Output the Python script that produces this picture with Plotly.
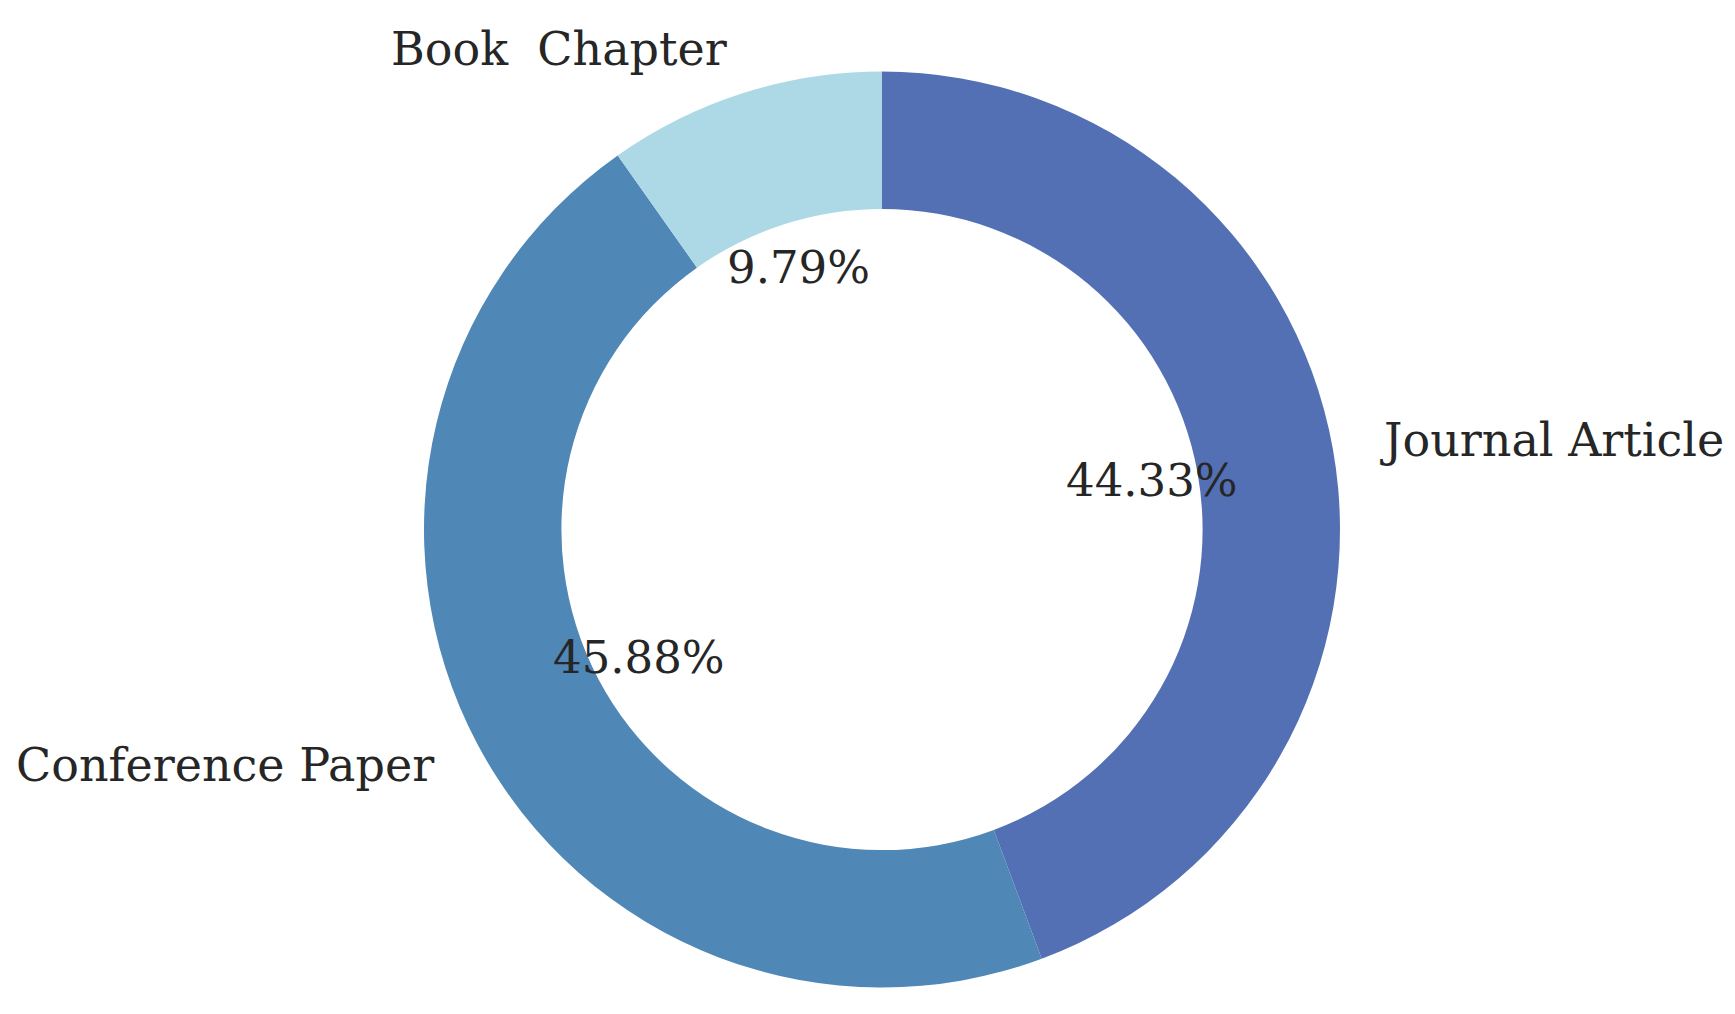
import math
import plotly.graph_objects as go

labels = ["Journal Article", "Conference Paper", "Book\u00a0\u00a0Chapter"]
values = [44.33, 45.88, 9.79]
colors = ["#5470b4", "#4f87b6", "#add8e6"]

W, H = 1719, 998
OFF = 8                        # page body margin
CX, CY = 882 - OFF, 529.5 - OFF  # pie centre in figure pixels (from top)
R = 458                        # outer radius in pixels
HOLE = 0.7
LABEL_DIST = 1.1
PCT_DIST = 0.6
FONT = dict(family="DejaVu Serif", size=45, color="#262626")
LFONT = dict(family="DejaVu Serif", size=46, color="#262626")

fig = go.Figure()
fig.add_trace(go.Pie(
    labels=labels,
    values=values,
    hole=HOLE,
    sort=False,
    direction="clockwise",
    rotation=0,
    textinfo="none",
    hoverinfo="label+percent",
    marker=dict(colors=colors, line=dict(width=0)),
    showlegend=False,
    domain=dict(x=[(CX - R) / W, (CX + R) / W],
                y=[(H - CY - R) / H, (H - CY + R) / H]),
))

total = sum(values)
start = 90.0
annotations = []
for lab, v in zip(labels, values):
    span = v / total * 360.0
    mid = math.radians(start - span / 2)
    start -= span
    c, s = math.cos(mid), math.sin(mid)
    annotations.append(dict(
        x=(CX + R * LABEL_DIST * c) / W,
        y=(H - CY + R * LABEL_DIST * s) / H,
        xref="paper", yref="paper",
        text=lab, showarrow=False,
        xanchor="left" if c > 0 else "right",
        yanchor="middle", font=LFONT,
    ))
    annotations.append(dict(
        x=(CX + R * PCT_DIST * c) / W,
        y=(H - CY + R * PCT_DIST * s) / H,
        xref="paper", yref="paper",
        text=f"{v / total * 100:.2f}%", showarrow=False,
        xanchor="center", yanchor="middle", font=FONT,
    ))

fig.update_layout(
    width=W, height=H,
    margin=dict(l=0, r=0, t=0, b=0),
    paper_bgcolor="white",
    plot_bgcolor="white",
    annotations=annotations,
)

fig.write_html("out.html")
